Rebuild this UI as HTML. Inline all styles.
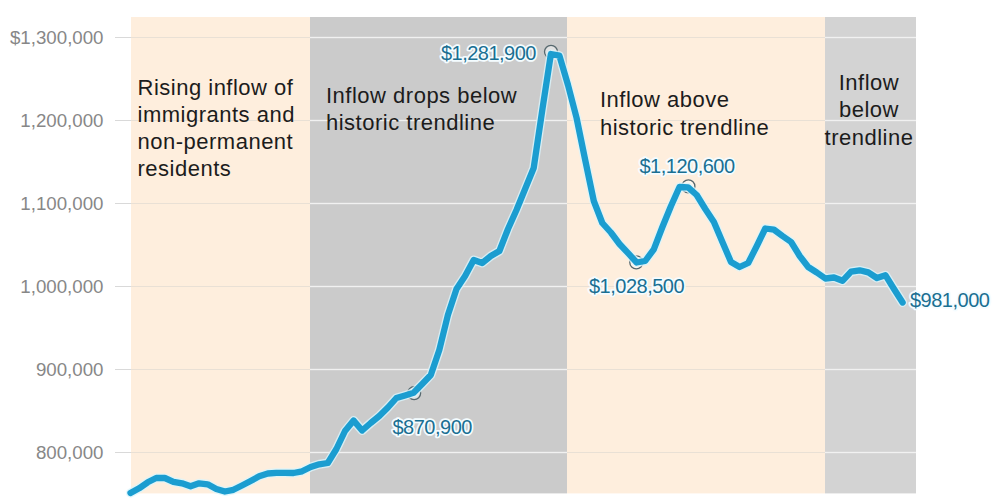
<!DOCTYPE html>
<html><head><meta charset="utf-8"><style>
html,body{margin:0;padding:0;background:#fff;width:1000px;height:500px;overflow:hidden}
svg{display:block}
text{font-family:"Liberation Sans",sans-serif}
.ax{font-size:18.7px;fill:#878787}
.an{font-size:22px;fill:#1c1c1c;letter-spacing:0.5px}
.dl{font-size:20px;fill:#1a6f92;letter-spacing:-0.5px}
.dlh{font-size:20px;letter-spacing:-0.5px;fill:#fff;stroke:#f4fcff;stroke-width:3.5px;stroke-linejoin:round}
</style></head><body>
<svg width="1000" height="500" viewBox="0 0 1000 500">
<rect x="0" y="0" width="1000" height="500" fill="#ffffff"/>
<rect x="131" y="17" width="179" height="476.4" fill="#feeedd"/>
<rect x="310" y="17" width="257" height="476.4" fill="#cbcbcb"/>
<rect x="567" y="17" width="258" height="476.4" fill="#feeedd"/>
<rect x="825" y="17" width="91" height="476.4" fill="#d3d3d3"/>
<rect x="115" y="37" width="16" height="1" fill="#d9d9d9"/>
<rect x="131" y="37" width="179" height="1" fill="#e9e0d5"/>
<rect x="310" y="36.8" width="257" height="1.4" fill="#f1f1f1"/>
<rect x="567" y="37" width="258" height="1" fill="#e9e0d5"/>
<rect x="825" y="36.8" width="91" height="1.4" fill="#f1f1f1"/>
<rect x="115" y="120" width="16" height="1" fill="#d9d9d9"/>
<rect x="131" y="120" width="179" height="1" fill="#e9e0d5"/>
<rect x="310" y="119.8" width="257" height="1.4" fill="#f1f1f1"/>
<rect x="567" y="120" width="258" height="1" fill="#e9e0d5"/>
<rect x="825" y="119.8" width="91" height="1.4" fill="#f1f1f1"/>
<rect x="115" y="203" width="16" height="1" fill="#d9d9d9"/>
<rect x="131" y="203" width="179" height="1" fill="#e9e0d5"/>
<rect x="310" y="202.8" width="257" height="1.4" fill="#f1f1f1"/>
<rect x="567" y="203" width="258" height="1" fill="#e9e0d5"/>
<rect x="825" y="202.8" width="91" height="1.4" fill="#f1f1f1"/>
<rect x="115" y="286" width="16" height="1" fill="#d9d9d9"/>
<rect x="131" y="286" width="179" height="1" fill="#e9e0d5"/>
<rect x="310" y="285.8" width="257" height="1.4" fill="#f1f1f1"/>
<rect x="567" y="286" width="258" height="1" fill="#e9e0d5"/>
<rect x="825" y="285.8" width="91" height="1.4" fill="#f1f1f1"/>
<rect x="115" y="369" width="16" height="1" fill="#d9d9d9"/>
<rect x="131" y="369" width="179" height="1" fill="#e9e0d5"/>
<rect x="310" y="368.8" width="257" height="1.4" fill="#f1f1f1"/>
<rect x="567" y="369" width="258" height="1" fill="#e9e0d5"/>
<rect x="825" y="368.8" width="91" height="1.4" fill="#f1f1f1"/>
<rect x="115" y="452" width="16" height="1" fill="#d9d9d9"/>
<rect x="131" y="452" width="179" height="1" fill="#e9e0d5"/>
<rect x="310" y="451.8" width="257" height="1.4" fill="#f1f1f1"/>
<rect x="567" y="452" width="258" height="1" fill="#e9e0d5"/>
<rect x="825" y="451.8" width="91" height="1.4" fill="#f1f1f1"/>
<text x="103.5" y="43.6" text-anchor="end" class="ax">$1,300,000</text>
<text x="103.5" y="126.6" text-anchor="end" class="ax">1,200,000</text>
<text x="103.5" y="209.6" text-anchor="end" class="ax">1,100,000</text>
<text x="103.5" y="292.6" text-anchor="end" class="ax">1,000,000</text>
<text x="103.5" y="375.6" text-anchor="end" class="ax">900,000</text>
<text x="103.5" y="458.6" text-anchor="end" class="ax">800,000</text>
<text x="137.5" y="95.2" text-anchor="start" class="an">Rising inflow of</text>
<text x="137.5" y="122.3" text-anchor="start" class="an">immigrants and</text>
<text x="137.5" y="149.2" text-anchor="start" class="an">non-permanent</text>
<text x="137.5" y="175.6" text-anchor="start" class="an">residents</text>
<text x="326" y="102.5" text-anchor="start" class="an">Inflow drops below</text>
<text x="326" y="130" text-anchor="start" class="an">historic trendline</text>
<text x="600" y="107.4" text-anchor="start" class="an">Inflow above</text>
<text x="600" y="135" text-anchor="start" class="an">historic trendline</text>
<text x="869" y="89.6" text-anchor="middle" class="an">Inflow</text>
<text x="869" y="117" text-anchor="middle" class="an">below</text>
<text x="869" y="145" text-anchor="middle" class="an">trendline</text>
<circle cx="414.1" cy="393.2" r="6.5" fill="#ffffff" fill-opacity="0.45" stroke="#56686e" stroke-width="1.3"/>
<circle cx="551" cy="51.8" r="6.5" fill="#ffffff" fill-opacity="0.45" stroke="#56686e" stroke-width="1.3"/>
<circle cx="636.3" cy="262.4" r="6.5" fill="#ffffff" fill-opacity="0.45" stroke="#56686e" stroke-width="1.3"/>
<circle cx="688.4" cy="186.4" r="6.5" fill="#ffffff" fill-opacity="0.45" stroke="#56686e" stroke-width="1.3"/>
<polyline points="130.5,493.0 139.1,488.3 147.7,482.3 156.2,478.0 164.8,478.0 173.4,481.8 182.0,483.3 190.6,486.3 199.1,483.3 207.7,484.3 216.3,489.0 224.9,491.5 233.4,489.8 242.0,485.5 250.6,481.0 259.2,476.3 267.8,473.5 276.3,472.8 284.9,472.8 293.5,473.0 302.1,471.3 310.7,467.0 319.2,464.3 327.8,463.0 336.4,449.0 345.0,431.0 353.6,420.5 362.1,430.5 370.7,423.0 379.3,416.0 387.9,407.5 396.4,398.0 405.0,395.5 413.6,392.8 422.2,384.0 430.8,375.0 439.3,350.0 447.9,315.0 456.5,289.0 465.1,276.0 473.7,260.0 482.2,263.0 490.8,256.0 499.4,251.0 508.0,229.0 516.5,210.0 525.1,189.0 533.7,168.0 542.3,110.0 550.9,54.0 559.4,55.6 568.0,85.0 576.6,118.0 585.2,160.0 593.8,201.0 602.3,223.0 610.9,232.5 619.5,244.0 628.1,253.2 636.7,262.5 645.2,261.0 653.8,249.3 662.4,227.0 671.0,206.0 679.5,187.0 688.1,187.3 696.7,195.0 705.3,209.0 713.9,222.0 722.4,242.0 731.0,262.0 739.6,267.0 748.2,263.0 756.8,246.0 765.3,228.5 773.9,229.6 782.5,236.0 791.1,242.0 799.7,256.0 808.2,267.0 816.8,272.5 825.4,278.5 834.0,277.5 842.5,280.8 851.1,271.7 859.7,270.3 868.3,272.4 876.9,278.0 885.4,275.2 894.0,289.0 902.6,302.5" fill="none" stroke="#d9f5fd" stroke-width="9" stroke-linejoin="round" stroke-linecap="round" opacity="0.8"/>
<polyline points="130.5,493.0 139.1,488.3 147.7,482.3 156.2,478.0 164.8,478.0 173.4,481.8 182.0,483.3 190.6,486.3 199.1,483.3 207.7,484.3 216.3,489.0 224.9,491.5 233.4,489.8 242.0,485.5 250.6,481.0 259.2,476.3 267.8,473.5 276.3,472.8 284.9,472.8 293.5,473.0 302.1,471.3 310.7,467.0 319.2,464.3 327.8,463.0 336.4,449.0 345.0,431.0 353.6,420.5 362.1,430.5 370.7,423.0 379.3,416.0 387.9,407.5 396.4,398.0 405.0,395.5 413.6,392.8 422.2,384.0 430.8,375.0 439.3,350.0 447.9,315.0 456.5,289.0 465.1,276.0 473.7,260.0 482.2,263.0 490.8,256.0 499.4,251.0 508.0,229.0 516.5,210.0 525.1,189.0 533.7,168.0 542.3,110.0 550.9,54.0 559.4,55.6 568.0,85.0 576.6,118.0 585.2,160.0 593.8,201.0 602.3,223.0 610.9,232.5 619.5,244.0 628.1,253.2 636.7,262.5 645.2,261.0 653.8,249.3 662.4,227.0 671.0,206.0 679.5,187.0 688.1,187.3 696.7,195.0 705.3,209.0 713.9,222.0 722.4,242.0 731.0,262.0 739.6,267.0 748.2,263.0 756.8,246.0 765.3,228.5 773.9,229.6 782.5,236.0 791.1,242.0 799.7,256.0 808.2,267.0 816.8,272.5 825.4,278.5 834.0,277.5 842.5,280.8 851.1,271.7 859.7,270.3 868.3,272.4 876.9,278.0 885.4,275.2 894.0,289.0 902.6,302.5" fill="none" stroke="#1b9dd0" stroke-width="6.3" stroke-linejoin="round" stroke-linecap="round"/>
<text x="536" y="59.6" text-anchor="end" class="dlh">$1,281,900</text>
<text x="536" y="59.6" text-anchor="end" class="dl">$1,281,900</text>
<text x="392.5" y="434" text-anchor="start" class="dlh">$870,900</text>
<text x="392.5" y="434" text-anchor="start" class="dl">$870,900</text>
<text x="589" y="293.4" text-anchor="start" class="dlh">$1,028,500</text>
<text x="589" y="293.4" text-anchor="start" class="dl">$1,028,500</text>
<text x="639.5" y="172.8" text-anchor="start" class="dlh">$1,120,600</text>
<text x="639.5" y="172.8" text-anchor="start" class="dl">$1,120,600</text>
<text x="910" y="306.5" text-anchor="start" class="dlh">$981,000</text>
<text x="910" y="306.5" text-anchor="start" class="dl">$981,000</text>
</svg>
</body></html>
